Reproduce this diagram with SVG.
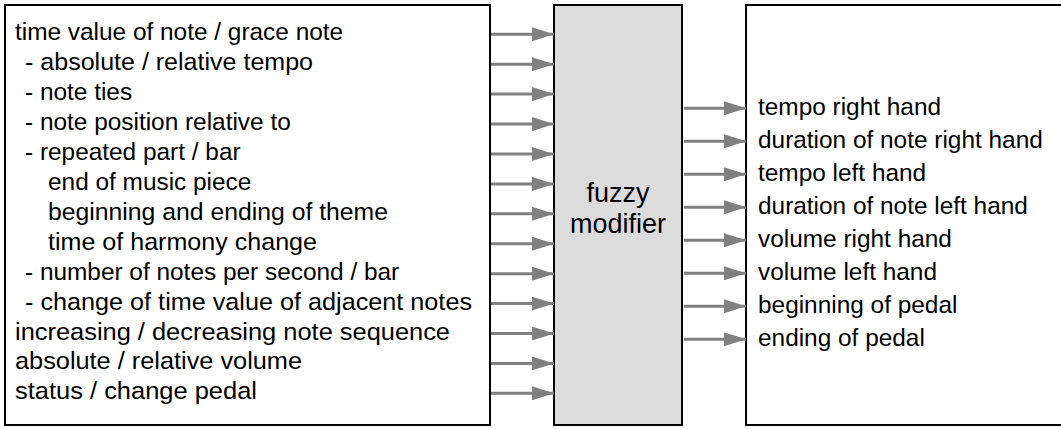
<svg xmlns="http://www.w3.org/2000/svg" width="1061" height="429" viewBox="0 0 1061 429">
<style>
.box{fill:#fff;stroke:#000;stroke-width:2}
.mid{fill:#dcdcdc;stroke:#000;stroke-width:2}
text{font-family:"Liberation Sans",Arial,sans-serif;font-size:24.4px;fill:#000}
.big{font-size:27px}
.c{stroke:#808080;stroke-width:3;fill:none;marker-end:url(#ah)}
</style>
<defs>
<marker id="ah" markerUnits="userSpaceOnUse" markerWidth="22" markerHeight="14" refX="22" refY="7" orient="auto" viewBox="0 0 22 14">
<path d="M0,0 L22,7 L0,14 Z" fill="#808080"/>
</marker>
</defs>
<g id="inputs">
<rect class="box" x="5" y="5" width="485" height="420"/>
<text x="15" y="40.3">time value of note / grace note</text>
<text x="25" y="70.2" textLength="288" lengthAdjust="spacingAndGlyphs">- absolute / relative tempo</text>
<text x="25" y="100.1">- note ties</text>
<text x="25" y="130.1">- note position relative to</text>
<text x="25" y="160">- repeated part / bar</text>
<text x="48" y="189.9">end of music piece</text>
<text x="48" y="219.8" textLength="340" lengthAdjust="spacingAndGlyphs">beginning and ending of theme</text>
<text x="48" y="249.7" textLength="269" lengthAdjust="spacingAndGlyphs">time of harmony change</text>
<text x="25" y="279.7">- number of notes per second / bar</text>
<text x="25" y="309.6" textLength="447" lengthAdjust="spacingAndGlyphs">- change of time value of adjacent notes</text>
<text x="15" y="339.5" textLength="435" lengthAdjust="spacingAndGlyphs">increasing / decreasing note sequence</text>
<text x="15" y="369.4" textLength="287" lengthAdjust="spacingAndGlyphs">absolute / relative volume</text>
<text x="15" y="399.3" textLength="242" lengthAdjust="spacingAndGlyphs">status / change pedal</text>
</g>
<g id="fuzzy">
<rect class="mid" x="554" y="5" width="128" height="420"/>
<text class="big" x="618" y="201.7" text-anchor="middle">fuzzy</text>
<text class="big" x="618" y="233" text-anchor="middle">modifier</text>
</g>
<g id="outputs">
<rect class="box" x="746" y="5" width="320" height="420"/>
<text x="758" y="114.8">tempo right hand</text>
<text x="758" y="147.8">duration of note right hand</text>
<text x="758" y="180.8">tempo left hand</text>
<text x="758" y="213.8">duration of note left hand</text>
<text x="758" y="246.8">volume right hand</text>
<text x="758" y="279.8">volume left hand</text>
<text x="758" y="312.8">beginning of pedal</text>
<text x="758" y="345.8">ending of pedal</text>
</g>
<g id="connectors">
<path class="c" d="M491,34.3H554"/>
<path class="c" d="M491,64.2H554"/>
<path class="c" d="M491,94.1H554"/>
<path class="c" d="M491,124.1H554"/>
<path class="c" d="M491,154H554"/>
<path class="c" d="M491,183.9H554"/>
<path class="c" d="M491,213.8H554"/>
<path class="c" d="M491,243.7H554"/>
<path class="c" d="M491,273.7H554"/>
<path class="c" d="M491,303.6H554"/>
<path class="c" d="M491,333.5H554"/>
<path class="c" d="M491,363.4H554"/>
<path class="c" d="M491,393.3H554"/>
<path class="c" d="M684,108.3H746"/>
<path class="c" d="M684,141.3H746"/>
<path class="c" d="M684,174.3H746"/>
<path class="c" d="M684,207.3H746"/>
<path class="c" d="M684,240.3H746"/>
<path class="c" d="M684,273.3H746"/>
<path class="c" d="M684,306.3H746"/>
<path class="c" d="M684,339.3H746"/>
</g>
</svg>
